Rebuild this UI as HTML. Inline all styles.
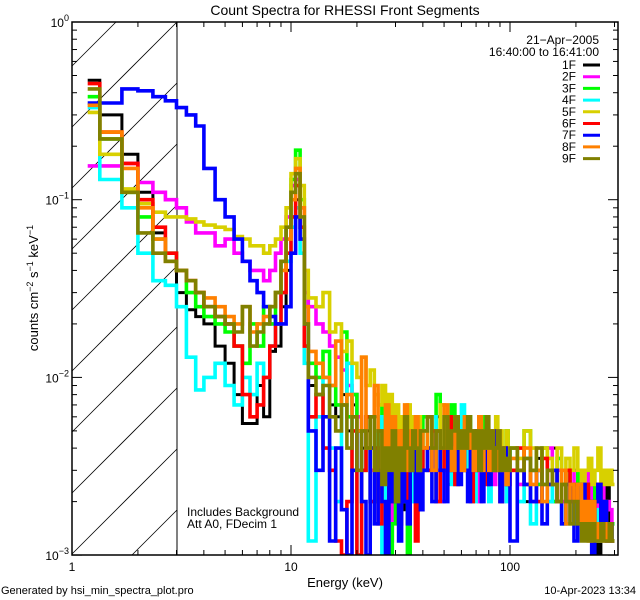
<!DOCTYPE html>
<html><head><meta charset="utf-8"><style>
html,body{margin:0;padding:0;background:#fff;width:640px;height:600px;overflow:hidden;}
svg{display:block;font-family:"Liberation Sans",sans-serif;}
</style></head><body>
<svg id="chart" width="640" height="600" viewBox="0 0 640 600" xmlns="http://www.w3.org/2000/svg">
<defs><clipPath id="plotclip"><rect x="72" y="22" width="546" height="533"/></clipPath></defs>
<rect width="640" height="600" fill="#fff"/>
<text x="345" y="15" font-size="14" text-anchor="middle">Count Spectra for RHESSI Front Segments</text>
<g id="hatch"></g>
<line x1="177" y1="22" x2="177" y2="555" stroke="#000" stroke-width="1"/>
<g id="series" clip-path="url(#plotclip)"></g>
<rect x="72" y="22" width="546" height="533" fill="none" stroke="#000" stroke-width="1.5"/>
<g id="ticks"></g>
<text x="345" y="587" font-size="13" text-anchor="middle">Energy (keV)</text>
<text transform="translate(38,288) rotate(-90)" font-size="13" text-anchor="middle">counts cm<tspan dy="-5" font-size="9">−2</tspan><tspan dy="5"> s</tspan><tspan dy="-5" font-size="9">−1</tspan><tspan dy="5"> keV</tspan><tspan dy="-5" font-size="9">−1</tspan></text>
<text x="599" y="44" font-size="12" text-anchor="end">21−Apr−2005</text>
<text x="599" y="56" font-size="12" text-anchor="end">16:40:00 to 16:41:00</text>
<g id="legend"></g>
<text x="187" y="516" font-size="12">Includes Background</text>
<text x="187" y="528" font-size="12">Att A0, FDecim 1</text>
<text x="1" y="594" font-size="11">Generated by hsi_min_spectra_plot.pro</text>
<text x="636" y="594" font-size="11" text-anchor="end">10-Apr-2023 13:34</text>
</svg>
<script>
const edges=[1.18,1.34,1.69,2.0,2.34,2.67,3.0,3.33,3.67,4.0,4.5,5,5.5,6,6.5,7,7.5,8,8.5,9,9.5,10,10.5,11,11.5,12,
13,14,15,16,17,18,19,20,21,22,23,24,25,26,27,28,29,30,31,32,33,34,35,36,37,38,39,40,
42,44,46,48,50,52,54,56,58,60,62,64,66,68,70,72,74,76,78,80,82,84,86,88,90,92,94,96,98,100,
108,116,124,132,140,148,156,164,172,180,188,196,204,212,220,228,236,244,252,260,268,276,284,292,300];
const seriesNames=["1F","2F","3F","4F","5F","6F","7F","8F","9F"];
const seriesColors=["#000000","#ff00ff","#00ff00","#00ffff","#d8d000","#ff0000","#0000ff","#ff8000","#808000"];
// values in units of 1e-3 counts cm^-2 s^-1 keV^-1, one per bin
const s1F=[470,300,180,110,65,45,30,24,22,20,15,12,8,5.5,5.5,9,6,14,15,25,40,70,100,60,15,
9,8,10,7,6,8,5,7,6,4,5,3,6,4,5,3,2,4,5,3,1.8,4,6,3,2,5,4,3,
5,4,3,6,4,3,2.5,5,4,3,6,4,5,3,4,2.5,3,5,4,3,4,5,3,4,3,2.5,4,3,5,3.5,
3,4,2,3,3.5,2.5,3,4,2,3,2.5,1.5,3,2,2.5,1.2,2,2.5,1.8,1,2,1.5,2.5,1.2,1.5];
const s2F=[155,155,160,125,110,100,90,75,65,65,55,60,50,45,40,40,35,40,50,60,80,120,130,90,30,
25,20,18,15,13,11,9,8,6,5,4,3,2,4,5,3,1.2,4,3,5,2,3,4,3,5,2,4,3,
4,3,5,3,2,4,6,3,4,3,5,4,3,2.5,4,3,2,4,3,5,3,4,2.5,3,4,3,2,3,4,3,
3,2.5,3.5,2,3,2.5,4,2,3,2,2.5,3,2,1.5,2.5,2,3,2,1.5,2,2.5,1.5,2,1.8,1.5];
const s3F=[380,220,110,80,60,50,40,30,25,22,20,18,15,12,20,15,25,20,30,45,70,130,190,100,25,
12,10,14,9,7,18,6,8,5,3,6,4,2,5,7,3,1,1.5,4,6,3,5,1,4,6,3,5,4,
6,4,5,8,3,5,4,7,3,4,5,3,6,4,3,5,4,3,6,4,5,3,4,3,5,2.5,4,3,5,3,
4,3,5,3,2.5,4,3,2,3.5,2.5,3,2,2.5,3,2,1.5,2.5,3,2,2.5,1.5,2,1.5,1.2,1.5];
const s4F=[330,130,90,50,35,33,25,13,8.5,10,12,9,7,10,8,12,10,15,20,30,45,70,90,50,12,
1.2,6,10,4,2,7,12,3,1,5,4,2,3,6,1,3,4,2,5,3,4,2,3,6,2,4,3,5,
3,4,6,2,4,3,5,2.5,4,3,7,4,3,5,2,4,3,5,4,3,2,4,3,5,3,2.5,4,3,2,4,
3,2,3.5,1.5,3,2.5,2,3,2,1.5,2.5,2,1.5,2,2.5,1.5,2,1.5,1.8,1.2,2,1.5,1.2,1.5,1.2];
const s5F=[310,180,115,95,85,80,80,78,75,72,70,68,62,60,55,55,50,55,60,70,90,140,170,120,40,
28,25,30,18,20,14,16,12,10,13,9,11,8,7,9,6,8,6,7,5,6,5,7,4,6,5,6,4,
5,6,4,5,7,4,5,6,4,5,4,6,5,4,5,4,6,5,4,5,3.5,5,4,6,4,5,3.5,4,5,4,
4,3.5,5,4,3,4,3.5,3,4,3,3.5,3,4,3,2.5,3,3.5,2.5,3,4,2.5,3,2.5,3,2.5];
const s6F=[450,240,160,100,70,50,40,35,30,25,22,20,15,8,6,7,10,15,20,30,50,80,120,70,15,
6,8,4,3,1.2,1,2,5,1,3,6,2,4,1.5,3,5,2,4,3,1.5,5,3,2,4,3,1.2,4,3,
4,3,5,2,3,4,6,3,2.5,4,3,5,4,2,3,4,5,3,4,2.5,3,4,5,3,4,2,3,4,3,2.5,
3,4,2.5,3,2,3.5,2.5,3,2,2.5,3,2,2.5,2,1.5,2.5,2,1.5,2,2.5,1.5,2,1.2,1.5,1.2];
const s7F=[350,350,420,410,380,360,330,300,260,150,100,80,60,45,35,30,25,22,20,20,25,50,80,60,20,
5,3,6,1.2,4,1.8,1,3,5,2,1,4,1.5,3,2,1,4,2,3,1.2,4,2,1.5,3,4,2,3,1.8,
3,4,2,5,3,2,4,3,5,2.5,4,3,2,4,3,5,3,2,4,3,2.5,4,3,5,3,2,3,4,2.5,3,
1.2,3,2.5,2,3,1.5,2.5,3,2,1.5,2.5,2,1.2,2,2.5,1.5,2,1,2,2.5,1.5,2,1.2,1.5,1.2];
const s8F=[340,240,150,90,60,45,40,35,30,28,25,22,20,25,18,20,22,25,30,40,60,100,150,90,25,
14,12,10,9,16,7,8,6,5,13,4,6,9,5,3,7,4,6,3,5,4,7,3,5,4,6,3,5,
4,6,3,5,4,7,4,3,5,4,3,6,4,5,3,4,6,3,5,4,3,5,4,3,5,3,4,3,2.5,3,
3.5,3,4,2.5,3,2,3,2.5,2,3,1.5,2.5,2,2.5,1.5,2,1.2,2,1.5,1.2,1.5,1.2,1.5,1.2,1.2];
const s9F=[420,220,110,65,50,45,40,35,30,25,22,20,18,25,15,18,20,25,30,45,70,110,140,80,20,
10,8,9,6,5,7,4,6,3,5,4,6,3,5,2.5,4,3,5,2,4,3,6,4,3,5,4,3,5,
5,6,4,5,4,6,4,5,6,4,5,4,6,5,4,5,3,5,4,6,4,5,3,4,5,3,4,3,3.5,3,
4,3,3.5,3,4,2.5,3,2.5,2,2.5,2,1.5,2,1.5,1.2,1.5,1.2,1.5,1.2,1.2,1.5,1.2,1.2,1.5,1.2];
const xTickLabels=["1","10","100"];
const yTickLabels=["0","−1","−2","−3"];

const NS="http://www.w3.org/2000/svg";
const X0=72,X1=618,Y0=22,Y1=555;
const xDec=219, yDec=177.7;
function xs(e){return X0+Math.log10(e)*xDec;}
function ys(v){return Y0-Math.log10(v)*yDec;}
function mk(t,a,p){const el=document.createElementNS(NS,t);for(const k in a)el.setAttribute(k,a[k]);p.appendChild(el);return el;}

// hatch lines, slope -1, clipped manually to x 72..177, y 22..555
const hatch=document.getElementById('hatch');
for(let k=-1;k<10;k++){
  const c=22+k*61; // y at x=177
  // line: y = c + (177 - x)
  let xa=72, ya=c+105, xb=177, yb=c;
  if(ya>Y1){xa=72+(ya-Y1);ya=Y1;}
  if(yb<Y0){xb=177-(Y0-yb);yb=Y0;}
  if(xa>=xb) continue;
  const ln=mk('line',{x1:xa,y1:ya,x2:xb,y2:yb,stroke:'#000','stroke-width':0.8},hatch);
  
  
}

const all=[s1F,s2F,s3F,s4F,s5F,s6F,s7F,s8F,s9F];
const sg=document.getElementById('series');
all.forEach((vals,i)=>{
  let d='';
  vals.forEach((v,j)=>{
    if(j+1>=edges.length) return;
    const y=Math.min(ys(Math.max(v*1e-3,1e-4)),Y1+3);
    const xa=xs(edges[j]),xb=xs(edges[j+1]);
    d+=(j===0?'M':'L')+xa.toFixed(1)+','+y.toFixed(1)+'L'+xb.toFixed(1)+','+y.toFixed(1);
  });
  const p=mk('path',{d:d,fill:'none',stroke:seriesColors[i],'stroke-width':(i===0?3:3.6),'stroke-linejoin':'miter'},sg);
  
  
});

const tg=document.getElementById('ticks');
for(let dec=0;dec<3;dec++){
  for(let m=1;m<10;m++){
    const e=m*Math.pow(10,dec);
    if(e>310) break;
    const x=xs(e), L=(m===1)?10:5;
    const t1=mk('line',{x1:x,y1:Y1,x2:x,y2:Y1-L,stroke:'#000'},tg);
    
    
    const t2=mk('line',{x1:x,y1:Y0,x2:x,y2:Y0+L,stroke:'#000'},tg);
    
    
  }
}
xTickLabels.forEach((lab,i)=>{
  const t=mk('text',{x:xs(Math.pow(10,i)),y:571,'font-size':12,'text-anchor':'middle'},tg);
  t.textContent=lab;
  
  
});
for(let dec=-3;dec<0;dec++){
  for(let m=1;m<10;m++){
    const v=m*Math.pow(10,dec);
    const y=ys(v), L=(m===1)?10:5;
    const t1=mk('line',{x1:X0,y1:y,x2:X0+L,y2:y,stroke:'#000'},tg);
    
    
    const t2=mk('line',{x1:X1,y1:y,x2:X1-L,y2:y,stroke:'#000'},tg);
    
    
  }
}
yTickLabels.forEach((lab,i)=>{
  const y=ys(Math.pow(10,-i));
  const t=mk('text',{x:X0-3,y:y+5,'font-size':12,'text-anchor':'end'},tg);
  
  
  const a=document.createElementNS(NS,'tspan');a.textContent='10';t.appendChild(a);
  const b=document.createElementNS(NS,'tspan');b.setAttribute('dy','-6');b.setAttribute('font-size','9');b.textContent=lab;t.appendChild(b);
});

const lg=document.getElementById('legend');
seriesNames.forEach((n,i)=>{
  const y=65+i*11.7;
  const t=mk('text',{x:576,y:y+4,'font-size':12,'text-anchor':'end'},lg);
  t.textContent=n;
  
  
  const l=mk('line',{x1:583,y1:y,x2:600,y2:y,stroke:seriesColors[i],'stroke-width':3},lg);
  
  
});
</script>
</body></html>
